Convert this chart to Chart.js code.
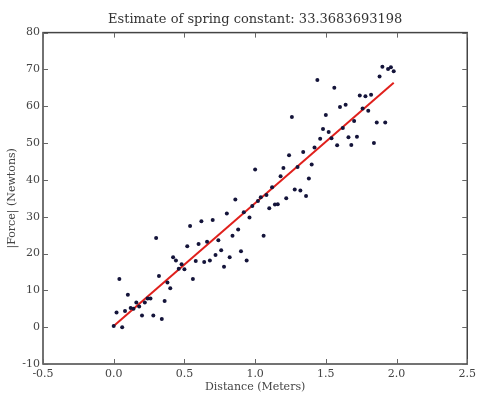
<!DOCTYPE html>
<html>
<head>
<meta charset="utf-8">
<script src="https://cdn.jsdelivr.net/npm/chart.js@4"></script>
<style>
  html, body { margin: 0; padding: 0; background: #fff; }
  #wrap { width: 480px; height: 394px; }
</style>
</head>
<body>
<div id="wrap"><canvas id="canvas" width="480" height="394"></canvas></div>
<script>
var distances = [0.00, 0.02, 0.04, 0.06, 0.08, 0.10, 0.12, 0.14, 0.16, 0.18,
  0.20, 0.22, 0.24, 0.26, 0.28, 0.30, 0.32, 0.34, 0.36, 0.38,
  0.40, 0.42, 0.44, 0.46, 0.48, 0.50, 0.52, 0.54, 0.56, 0.58,
  0.60, 0.62, 0.64, 0.66, 0.68, 0.70, 0.72, 0.74, 0.76, 0.78,
  0.80, 0.82, 0.84, 0.86, 0.88, 0.90, 0.92, 0.94, 0.96, 0.98,
  1.00, 1.02, 1.04, 1.06, 1.08, 1.10, 1.12, 1.14, 1.16, 1.18,
  1.20, 1.22, 1.24, 1.26, 1.28, 1.30, 1.32, 1.34, 1.36, 1.38,
  1.40, 1.42, 1.44, 1.46, 1.48, 1.50, 1.52, 1.54, 1.56, 1.58,
  1.60, 1.62, 1.64, 1.66, 1.68, 1.70, 1.72, 1.74, 1.76, 1.78,
  1.80, 1.82, 1.84, 1.86, 1.88, 1.90, 1.92, 1.94, 1.96, 1.98];
var forces = [0.3, 4.0, 13.1, 0.0, 4.4, 8.8, 5.2, 5.0, 6.7, 5.6,
  3.2, 6.7, 7.8, 7.8, 3.2, 24.2, 13.9, 2.2, 7.1, 12.1,
  10.6, 19.0, 18.1, 15.9, 17.1, 15.7, 22.0, 27.5, 13.1, 18.0,
  22.6, 28.8, 17.7, 23.2, 18.1, 29.1, 19.6, 23.6, 20.9, 16.4,
  30.9, 19.0, 24.8, 34.7, 26.5, 20.6, 31.2, 18.1, 29.8, 32.9,
  42.8, 34.3, 35.3, 24.8, 35.9, 32.3, 38.0, 33.3, 33.4, 41.0,
  43.2, 35.0, 46.7, 57.1, 37.4, 43.5, 37.1, 47.6, 35.6, 40.4,
  44.2, 48.8, 67.1, 51.2, 53.8, 57.6, 53.0, 51.3, 65.0, 49.4,
  59.8, 54.1, 60.4, 51.6, 49.5, 56.0, 51.7, 62.9, 59.4, 62.7,
  58.8, 63.1, 50.0, 55.6, 68.1, 70.7, 55.6, 70.1, 70.6, 69.5];
var fitX = [0.0, 1.98];
var fitY = [0.3, 66.4];
var xTicks = [-0.5, 0.0, 0.5, 1.0, 1.5, 2.0, 2.5];
var yTicks = [-10, 0, 10, 20, 30, 40, 50, 60, 70, 80];

var font = "'DejaVu Serif', serif";

var points = distances.map(function(d, i) { return { x: d, y: forces[i] }; });
var line = fitX.map(function(d, i) { return { x: d, y: fitY[i] }; });

// matplotlib-ish frame and inward ticks
var frame = {
  id: 'frame',
  afterDraw: function(chart) {
    var c = chart.ctx, a = chart.chartArea;
    var xs = chart.scales.x, ys = chart.scales.y;
    c.save();
    c.strokeStyle = '#444';
    c.lineWidth = 1.5;
    c.strokeRect(a.left, a.top, a.right - a.left, a.bottom - a.top);
    c.lineWidth = 1;
    c.strokeStyle = '#666';
    c.beginPath();
    xTicks.forEach(function(v) {
      var px = Math.round(xs.getPixelForValue(v)) + 0.5;
      c.moveTo(px, a.bottom); c.lineTo(px, a.bottom - 5);
      c.moveTo(px, a.top); c.lineTo(px, a.top + 5);
    });
    yTicks.forEach(function(v) {
      var py = Math.round(ys.getPixelForValue(v)) + 0.5;
      c.moveTo(a.left, py); c.lineTo(a.left + 5, py);
      c.moveTo(a.right, py); c.lineTo(a.right - 5, py);
    });
    c.stroke();
    c.restore();
  }
};

var ctx = document.getElementById('canvas');
var chart = new Chart(ctx, {
  type: 'scatter',
  data: {
    datasets: [
      {
        label: 'Measured',
        data: points,
        backgroundColor: '#14143a',
        borderColor: '#14143a',
        pointRadius: 2,
        pointBorderWidth: 0
      },
      {
        label: 'Fit',
        data: line,
        showLine: true,
        borderColor: '#e0201c',
        borderWidth: 2,
        pointRadius: 0,
        fill: false
      }
    ]
  },
  options: {
    responsive: false,
    animation: false,
    layout: { padding: { left: 0, right: 8, top: 0, bottom: 0 } },
    plugins: {
      legend: { display: false },
      tooltip: { enabled: false },
      title: {
        display: true,
        fullSize: false,
        text: 'Estimate of spring constant: 33.3683693198',
        color: '#333',
        font: { family: font, size: 13, weight: 'normal' },
        padding: { top: 12, bottom: 5 }
      }
    },
    scales: {
      x: {
        type: 'linear',
        min: -0.5,
        max: 2.5,
        afterBuildTicks: function(s) { s.ticks = xTicks.map(function(v) { return { value: v }; }); },
        afterFit: function(s) { s.height = 30; },
        grid: { display: false, drawTicks: false },
        border: { display: false },
        ticks: {
          color: '#444',
          font: { family: font, size: 11 },
          padding: 4,
          maxRotation: 0,
          callback: function(v) { return v.toFixed(1); }
        },
        title: {
          display: true,
          text: 'Distance (Meters)',
          color: '#444',
          font: { family: font, size: 11 },
          padding: 0
        }
      },
      y: {
        type: 'linear',
        min: -10,
        max: 80,
        afterBuildTicks: function(s) { s.ticks = yTicks.map(function(v) { return { value: v }; }); },
        afterFit: function(s) { s.width = 43; },
        grid: { display: false, drawTicks: false },
        border: { display: false },
        ticks: {
          color: '#444',
          font: { family: font, size: 11 },
          padding: 3,
          callback: function(v) { return String(v); }
        },
        title: {
          display: true,
          text: '|Force| (Newtons)',
          color: '#444',
          font: { family: font, size: 11 },
          padding: { top: 6, bottom: 0 }
        }
      }
    }
  },
  plugins: [frame]
});
</script>
</body>
</html>
